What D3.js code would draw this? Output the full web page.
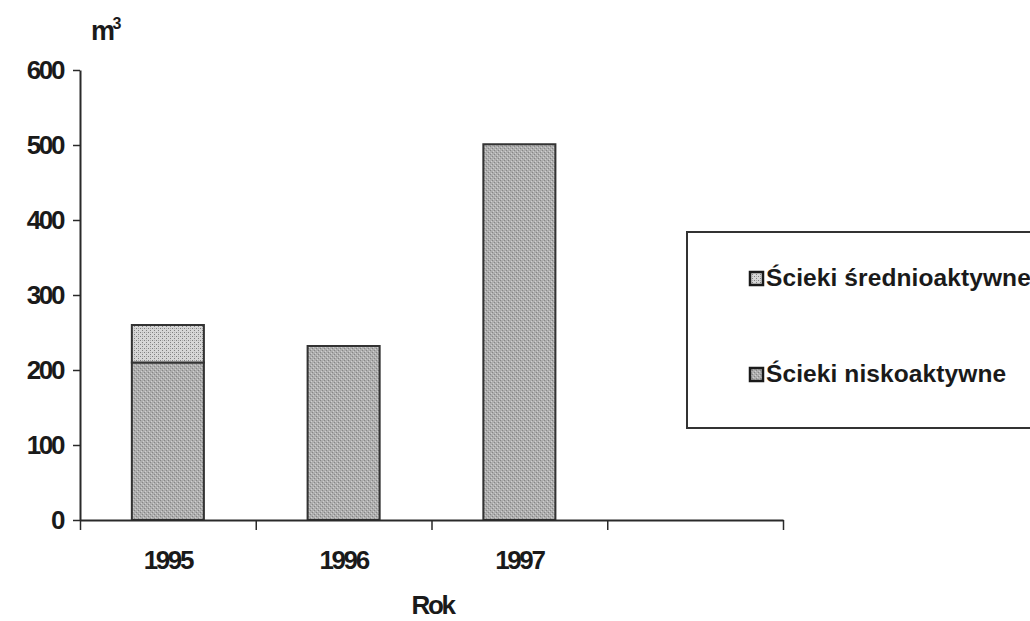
<!DOCTYPE html>
<html>
<head>
<meta charset="utf-8">
<script src="https://cdn.jsdelivr.net/npm/d3@7"></script>
<style>
  body { margin: 0; background: #fff; }
  svg { display: block; font-family: "Liberation Sans", Arial, sans-serif; }
</style>
</head>
<body>
<div id="chart"></div>
<script>
const years = ["1995", "1996", "1997", ""]
const nisko = [210, 232, 501, 0]
const srednio = [50, 0, 0, 0]
const y_ticks = [0, 100, 200, 300, 400, 500, 600]
const series_names = ["Ścieki średnioaktywne", "Ścieki niskoaktywne"]

const width = 1030,
      height = 621

const plot = { left: 80, right: 783, top: 70, bottom: 520 }
const ink = "#2a2a2a"

const svg = d3.select("#chart")
    .append("svg")
    .attr("width", width)
    .attr("height", height)

svg.append("rect").attr("width", width).attr("height", height).attr("fill", "#fff")

// fill patterns like the old print raster
const defs = svg.append("defs")

const p_nisko = defs.append("pattern")
    .attr("id", "pat-nisko")
    .attr("patternUnits", "userSpaceOnUse")
    .attr("width", 4).attr("height", 4)
p_nisko.append("rect").attr("width", 4).attr("height", 4).attr("fill", "#aeaeae")
p_nisko.append("rect").attr("x", 0).attr("y", 0).attr("width", 1).attr("height", 1).attr("fill", "#868686")
p_nisko.append("rect").attr("x", 2).attr("y", 2).attr("width", 1).attr("height", 1).attr("fill", "#868686")
p_nisko.append("rect").attr("x", 1).attr("y", 3).attr("width", 1).attr("height", 1).attr("fill", "#cfcfcf")
p_nisko.append("rect").attr("x", 3).attr("y", 1).attr("width", 1).attr("height", 1).attr("fill", "#cfcfcf")

const p_sred = defs.append("pattern")
    .attr("id", "pat-sred")
    .attr("patternUnits", "userSpaceOnUse")
    .attr("width", 4).attr("height", 4)
p_sred.append("rect").attr("width", 4).attr("height", 4).attr("fill", "#d6d6d6")
p_sred.append("rect").attr("x", 0).attr("y", 0).attr("width", 1).attr("height", 1).attr("fill", "#7f7f7f")
p_sred.append("rect").attr("x", 2).attr("y", 2).attr("width", 1).attr("height", 1).attr("fill", "#7f7f7f")
p_sred.append("rect").attr("x", 2).attr("y", 0).attr("width", 1).attr("height", 1).attr("fill", "#acacac")

const fills = { "Ścieki średnioaktywne": "url(#pat-sred)", "Ścieki niskoaktywne": "url(#pat-nisko)" }

let x = d3.scaleBand()
    .domain(years)
    .range([plot.left, plot.right])
    .paddingInner(0.59)
    .paddingOuter(0.295)

// category boundaries for the x tick marks
let x_edges = d3.scaleLinear()
    .domain([0, years.length])
    .range([plot.left, plot.right])

let y = d3.scaleLinear()
    .domain([0, 600])
    .range([plot.bottom, plot.top])

// bars
const rows = years.map((year, i) => ({ year, nisko: nisko[i], srednio: srednio[i] }))
const stack = d3.stack().keys(["nisko", "srednio"])(rows)
const key_fill = { nisko: fills["Ścieki niskoaktywne"], srednio: fills["Ścieki średnioaktywne"] }

stack.forEach(layer => {
    svg.append("g")
        .selectAll("rect")
        .data(layer.filter(d => d[1] - d[0] > 0))
        .enter()
        .append("rect")
        .attr("x", d => x(d.data.year))
        .attr("y", d => y(d[1]))
        .attr("width", x.bandwidth())
        .attr("height", d => y(d[0]) - y(d[1]))
        .attr("fill", key_fill[layer.key])
        .attr("stroke", "#333")
        .attr("stroke-width", 2)
})

const big_text = sel => sel
    .attr("fill", "#1a1a1a")
    .attr("font-size", "26px")
    .attr("font-weight", "bold")
    .attr("letter-spacing", "-2.4px")
    .attr("font-family", "'Liberation Sans', Arial, sans-serif")

// y axis
const y_axis = svg.append("g")
    .attr("transform", `translate(${plot.left}, 0)`)
    .call(d3.axisLeft(y).tickValues(y_ticks).tickSize(7).tickSizeOuter(0).tickPadding(10))
y_axis.select(".domain").attr("stroke", ink).attr("stroke-width", 2)
y_axis.selectAll(".tick line").attr("stroke", ink).attr("stroke-width", 1.5)
y_axis.selectAll(".tick text").call(big_text)

// x axis: line with ticks at the category edges
const x_axis = svg.append("g")
    .attr("transform", `translate(0, ${plot.bottom})`)
    .call(d3.axisBottom(x_edges).tickValues(d3.range(years.length + 1)).tickSize(10).tickSizeOuter(0).tickFormat(""))
x_axis.select(".domain").attr("stroke", ink).attr("stroke-width", 2)
x_axis.selectAll(".tick line").attr("stroke", ink).attr("stroke-width", 1.5)

const x_labels = svg.append("g")
    .attr("transform", `translate(0, ${plot.bottom})`)
    .call(d3.axisBottom(x).tickSize(0).tickPadding(31))
x_labels.select(".domain").remove()
x_labels.selectAll(".tick text").call(big_text)

// axis titles
const unit = svg.append("text")
    .attr("x", 91)
    .attr("y", 40)
    .call(big_text)
    .attr("font-size", "27px")
unit.append("tspan").text("m")
unit.append("tspan").attr("font-size", "16px").attr("dy", -11).text("3")

svg.append("text")
    .attr("x", (plot.left + plot.right) / 2 + 1)
    .attr("y", 614)
    .attr("text-anchor", "middle")
    .call(big_text)
    .text("Rok")

// legend
const legend = svg.append("g").attr("transform", "translate(687, 232)")
legend.append("rect")
    .attr("width", 400)
    .attr("height", 196)
    .attr("fill", "#fff")
    .attr("stroke", "#333")
    .attr("stroke-width", 2)

const entry = legend.selectAll("g.entry")
    .data(series_names)
    .enter()
    .append("g")
    .attr("class", "entry")
    .attr("transform", (d, i) => `translate(63, ${40 + i * 96})`)

entry.append("rect")
    .attr("width", 13)
    .attr("height", 13)
    .attr("fill", d => fills[d])
    .attr("stroke", "#1a1a1a")
    .attr("stroke-width", 2.5)

entry.append("text")
    .attr("x", 16)
    .attr("y", 14)
    .attr("fill", "#1a1a1a")
    .attr("font-size", "24.5px")
    .attr("font-weight", "bold")
    .attr("letter-spacing", "0.1px")
    .text(d => d)
</script>
</body>
</html>
